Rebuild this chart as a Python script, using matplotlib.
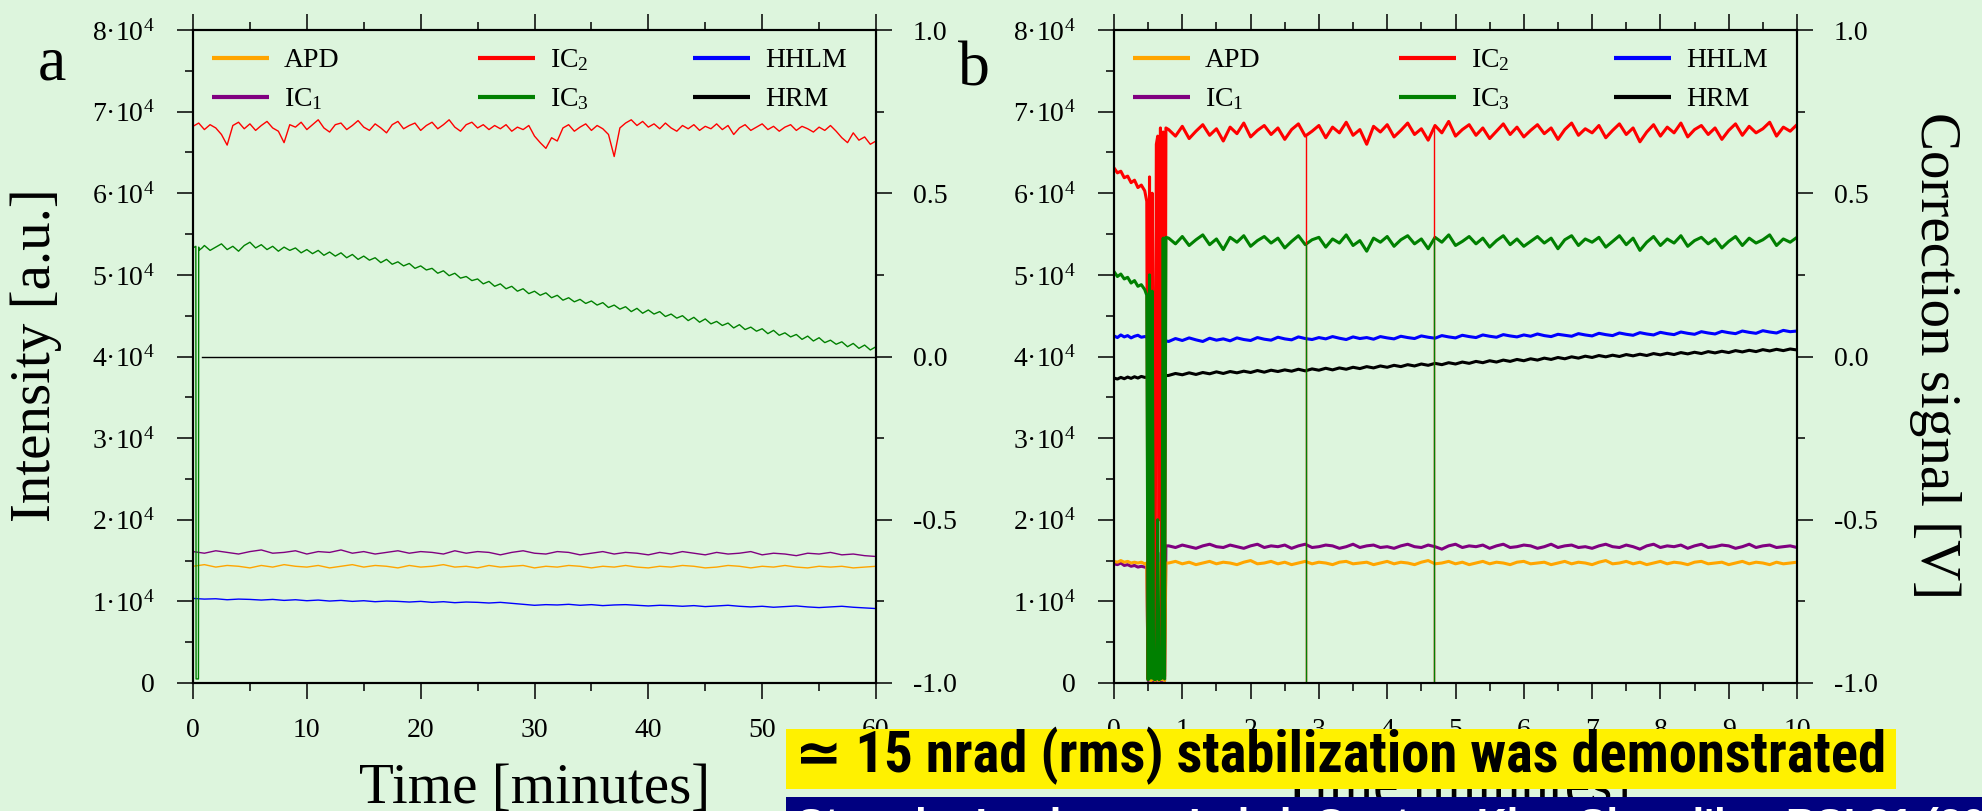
import numpy as np
import matplotlib
matplotlib.use("Agg")
import matplotlib.pyplot as plt
from matplotlib.lines import Line2D
from matplotlib.patches import Rectangle
from matplotlib.ticker import FixedLocator, MultipleLocator
from matplotlib import font_manager

# ---------------- data ----------------
# tick labels
ylabels_left = ['0', '1·10$^{4}$', '2·10$^{4}$', '3·10$^{4}$', '4·10$^{4}$',
                '5·10$^{4}$', '6·10$^{4}$', '7·10$^{4}$', '8·10$^{4}$']
ylabels_right = ['-1.0', '-0.5', '0.0', '0.5', '1.0']
series_names = ['APD', 'IC$_{\\mathrm{1}}$', 'IC$_{\\mathrm{2}}$', 'IC$_{\\mathrm{3}}$', 'HHLM', 'HRM']
series_colors = ['#ffa500', '#800080', '#ff0000', '#008000', '#0000ff', '#000000']

# ----- panel a (time in minutes, intensities in units of 100 counts, signals in V)
ic2_a = [682, 686, 678, 684, 680, 672, 659, 683, 687, 679, 685, 677, 683, 688, 680, 676, 662, 684,
         681, 687, 678, 684, 690, 680, 675, 684, 686, 678, 683, 689, 681, 677, 685, 680, 674, 684,
         688, 679, 683, 686, 677, 683, 687, 679, 684, 690, 681, 676, 684, 687, 680, 684, 678, 683,
         679, 684, 676, 681, 678, 683, 670, 662, 655, 668, 664, 680, 684, 676, 681, 685, 677, 683,
         679, 672, 645, 680, 686, 690, 683, 688, 681, 685, 679, 686, 680, 676, 683, 679, 684, 677,
         682, 679, 685, 678, 683, 672, 680, 684, 677, 681, 685, 678, 682, 676, 681, 684, 677, 682,
         679, 675, 681, 677, 683, 676, 668, 662, 674, 665, 669, 660, 664]
ic3_a_start_t = [0.0, 0.25, 0.27, 0.48, 0.50, 0.52, 0.8]
ic3_a_start = [533, 535, 5, 5, 534, 530, 533]
ic3_a = [536, 530, 534, 538, 531, 535, 529, 536, 540, 533, 537, 531, 535, 529, 534, 530, 533, 527,
         531, 526, 530, 524, 528, 523, 527, 521, 525, 519, 523, 518, 521, 515, 519, 513, 516, 511,
         514, 508, 511, 506, 508, 502, 505, 499, 502, 496, 498, 493, 495, 489, 492, 486, 489, 483,
         486, 480, 483, 477, 480, 475, 478, 472, 475, 469, 472, 467, 470, 465, 468, 463, 466, 460,
         463, 458, 461, 455, 459, 453, 457, 452, 455, 449, 452, 447, 450, 444, 448, 442, 446, 440,
         443, 438, 441, 435, 439, 433, 436, 431, 434, 428, 432, 426, 429, 424, 427, 421, 425, 419,
         423, 417, 420, 415, 418, 412, 416, 410, 414, 408, 412]
ic1_a = [161, 159, 162, 160, 158, 161, 163, 159, 160, 162, 158, 161, 160, 163, 159, 161, 158, 160,
         162, 159, 161, 160, 158, 162, 159, 161, 160, 157, 160, 162, 159, 158, 161, 160, 157, 159,
         161, 158, 160, 159, 157, 160, 158, 161, 159, 157, 160, 158, 159, 161, 157, 159, 158, 156,
         159, 158, 160, 157, 158, 156, 155]
apd_a = [143, 145, 142, 144, 143, 141, 144, 142, 145, 143, 142, 144, 141, 143, 145, 142, 144, 143,
         141, 144, 142, 143, 145, 142, 143, 141, 144, 142, 143, 144, 141, 143, 142, 144, 143, 141,
         143, 142, 144, 142, 141, 143, 142, 144, 143, 141, 142, 144, 143, 141, 143, 142, 144, 142,
         141, 143, 142, 143, 141, 142, 143]
hhlm_a = [-0.741, -0.743, -0.742, -0.745, -0.743, -0.744, -0.746, -0.744, -0.747, -0.745, -0.748,
          -0.746, -0.749, -0.747, -0.750, -0.748, -0.751, -0.749, -0.750, -0.752, -0.750, -0.753,
          -0.751, -0.754, -0.752, -0.753, -0.755, -0.753, -0.756, -0.759, -0.762, -0.760, -0.761,
          -0.759, -0.762, -0.760, -0.763, -0.761, -0.760, -0.762, -0.764, -0.762, -0.763, -0.765,
          -0.763, -0.766, -0.764, -0.762, -0.765, -0.767, -0.765, -0.768, -0.766, -0.764, -0.767,
          -0.769, -0.767, -0.765, -0.768, -0.770, -0.772]
hrm_a_t = [0.8, 60.0]
hrm_a = [0.0, 0.0]

# ----- panel b
tb_glitch = [0.48, 0.50, 0.52, 0.54, 0.56, 0.58, 0.60, 0.62, 0.64, 0.66, 0.68, 0.70, 0.72, 0.74, 0.76]
ic2_b_pre = [631, 625, 627, 619, 621, 613, 616, 607, 610, 603]
ic2_b_gl = [590, 5, 620, 8, 600, 350, 10, 660, 670, 200, 680, 10, 675, 8, 680]
ic2_b = [678, 670, 682, 667, 676, 684, 671, 679, 664, 681, 673, 686, 669, 677, 683, 672, 680, 666,
         678, 685, 670, 676, 683, 668, 681, 674, 687, 671, 678, 660, 682, 675, 684, 669, 677, 686,
         672, 679, 665, 683, 674, 688, 670, 678, 684, 671, 680, 667, 676, 685, 672, 681, 669, 677,
         684, 673, 680, 666, 678, 686, 671, 679, 674, 683, 668, 677, 685, 672, 680, 663, 675, 684,
         670, 681, 674, 686, 669, 678, 683, 672, 680, 666, 677, 685, 671, 682, 674, 679, 687, 670,
         681, 676, 684]
ic3_b_pre = [504, 498, 501, 495, 497, 490, 493, 486, 488, 482]
ic3_b_gl = [475, 4, 500, 6, 480, 5, 4, 5, 200, 4, 5, 6, 545, 5, 546]
ic3_b = [545, 538, 547, 536, 543, 549, 537, 544, 531, 546, 540, 548, 535, 542, 547, 539, 545, 533,
         541, 548, 537, 543, 546, 534, 544, 539, 549, 536, 542, 529, 545, 540, 547, 535, 543, 548,
         538, 544, 532, 546, 540, 549, 536, 541, 547, 538, 545, 534, 542, 548, 537, 544, 535, 541,
         547, 539, 545, 532, 543, 548, 536, 544, 540, 546, 534, 541, 548, 537, 545, 530, 540, 547,
         536, 544, 539, 548, 535, 542, 546, 538, 544, 533, 541, 547, 536, 545, 539, 543, 549, 536,
         544, 540, 546]
ic1_b_pre = [146, 145, 147, 144, 145, 143, 144, 142, 143, 142]
ic1_b_gl = [141, 3, 4, 140, 3, 3, 4, 3, 160, 3, 4, 3, 167, 3, 168]
ic1_b = [168, 166, 169, 167, 165, 168, 170, 167, 166, 169, 167, 165, 168, 170, 166, 168, 167, 169,
         165, 168, 170, 166, 167, 169, 168, 165, 167, 170, 166, 168, 169, 166, 167, 165, 168, 170,
         167, 166, 169, 167, 164, 168, 170, 166, 168, 167, 169, 165, 168, 170, 166, 167, 169, 168,
         165, 167, 170, 166, 168, 169, 166, 167, 165, 168, 170, 167, 166, 169, 167, 164, 168, 170,
         166, 168, 167, 169, 165, 168, 170, 166, 167, 169, 168, 165, 167, 170, 166, 168, 169, 166,
         167, 168, 166]
apd_b_pre = [149, 148, 150, 148, 149, 147, 148, 147, 148, 146]
apd_b_gl = [147, 4, 146, 3, 4, 147, 3, 4, 146, 3, 147, 4, 147, 3, 147]
apd_b = [147, 149, 146, 148, 145, 147, 149, 146, 148, 147, 145, 148, 150, 146, 147, 149, 146, 148,
         145, 147, 149, 146, 148, 147, 145, 148, 149, 146, 147, 148, 145, 147, 149, 146, 148, 147,
         145, 148, 150, 146, 147, 149, 146, 148, 145, 147, 149, 146, 148, 147, 145, 148, 149, 146,
         147, 148, 145, 147, 149, 146, 148, 147, 145, 148, 150, 146, 147, 149, 146, 148, 145, 147,
         149, 146, 148, 147, 145, 148, 149, 146, 147, 148, 145, 147, 149, 146, 148, 147, 145, 148,
         146, 147, 148]
hhlm_b_pre = [0.063, 0.058, 0.066, 0.060, 0.064, 0.057, 0.062, 0.065, 0.059, 0.061]
hhlm_b = [0.046, 0.055, 0.049, 0.057, 0.051, 0.046, 0.056, 0.050, 0.054, 0.048, 0.057, 0.052, 0.049,
          0.058, 0.053, 0.050, 0.059, 0.054, 0.051, 0.060, 0.055, 0.052, 0.058, 0.054, 0.061, 0.056,
          0.052, 0.060, 0.055, 0.058, 0.053, 0.061, 0.057, 0.054, 0.062, 0.058, 0.055, 0.063, 0.059,
          0.056, 0.064, 0.060, 0.057, 0.065, 0.061, 0.058, 0.066, 0.062, 0.059, 0.067, 0.063, 0.060,
          0.066, 0.062, 0.069, 0.064, 0.061, 0.068, 0.065, 0.062, 0.070, 0.066, 0.063, 0.071, 0.067,
          0.064, 0.072, 0.068, 0.065, 0.073, 0.069, 0.066, 0.074, 0.070, 0.067, 0.075, 0.071, 0.068,
          0.076, 0.072, 0.069, 0.077, 0.073, 0.070, 0.078, 0.074, 0.071, 0.079, 0.075, 0.072, 0.080,
          0.076, 0.078]
hrm_b_pre = [-0.066, -0.069, -0.064, -0.068, -0.063, -0.067, -0.062, -0.066, -0.061, -0.064]
hrm_b = [-0.058, -0.052, -0.056, -0.050, -0.055, -0.049, -0.053, -0.047, -0.052, -0.046, -0.050,
         -0.045, -0.049, -0.043, -0.048, -0.042, -0.046, -0.041, -0.045, -0.039, -0.044, -0.038,
         -0.042, -0.036, -0.041, -0.035, -0.039, -0.033, -0.037, -0.031, -0.035, -0.029, -0.033,
         -0.027, -0.031, -0.025, -0.029, -0.023, -0.027, -0.021, -0.025, -0.019, -0.023, -0.017,
         -0.021, -0.015, -0.019, -0.013, -0.017, -0.011, -0.015, -0.009, -0.013, -0.007, -0.011,
         -0.005, -0.009, -0.003, -0.007, -0.001, -0.005, 0.001, -0.003, 0.003, -0.001, 0.004, 0.000,
         0.006, 0.002, 0.007, 0.003, 0.009, 0.005, 0.010, 0.006, 0.012, 0.008, 0.013, 0.009, 0.015,
         0.011, 0.016, 0.012, 0.018, 0.014, 0.019, 0.015, 0.021, 0.017, 0.022, 0.018, 0.023, 0.020]
dropout_b_t = [2.81, 4.69]

headline = "\u2243 15 nrad (rms) stabilization was demonstrated"
citation = "Stoupin, Lenkszus, Laird, Goetze, Kim, Shvyd'ko, RSI 81 (2010)"

# ---------------- style ----------------
W, H = 1982, 811
BG = '#ddf5dd'
plt.rcParams['font.family'] = ['Liberation Serif', 'DejaVu Serif']
plt.rcParams['mathtext.fontset'] = 'custom'
plt.rcParams['mathtext.rm'] = 'Liberation Serif'
plt.rcParams['mathtext.it'] = 'Liberation Serif:italic'
plt.rcParams['mathtext.bf'] = 'Liberation Serif:bold'

# pick a narrow sans for the banner if one is installed
_installed = {f.name for f in font_manager.fontManager.ttflist}
sans_b = [f for f in ['Liberation Sans Narrow', 'Roboto Condensed', 'Open Sans Condensed']
          if f in _installed] + ['Liberation Sans', 'DejaVu Sans']

fig = plt.figure(figsize=(W / 100, H / 100), dpi=100, facecolor=BG)


def px_axes(x0, y0, x1, y1):
    return fig.add_axes([x0 / W, 1 - y1 / H, (x1 - x0) / W, (y1 - y0) / H])


def style_axes(ax, tw, xmax, xmaj, xmin, xticklabels):
    ax.set_xlim(0, xmax)
    ax.set_ylim(0, 8e4)
    tw.set_ylim(-1, 1)
    ax.set_zorder(2)
    tw.set_zorder(1)
    ax.patch.set_visible(False)
    tw.patch.set_visible(False)
    ax.xaxis.set_major_locator(FixedLocator(np.arange(0, xmax + 1e-9, xmaj)))
    ax.xaxis.set_minor_locator(MultipleLocator(xmin))
    ax.set_xticklabels(xticklabels)
    ax.yaxis.set_major_locator(FixedLocator(np.arange(0, 8e4 + 1, 1e4)))
    ax.yaxis.set_minor_locator(MultipleLocator(5e3))
    ax.set_yticklabels(ylabels_left)
    tw.yaxis.set_major_locator(FixedLocator([-1, -0.5, 0, 0.5, 1]))
    tw.yaxis.set_minor_locator(MultipleLocator(0.25))
    tw.set_yticklabels(ylabels_right)
    for a in (ax, tw):
        for s in a.spines.values():
            s.set_linewidth(1.5)
    ax.tick_params(which='both', direction='out', top=True, bottom=True, left=True, right=False,
                   labeltop=False, labelsize=20, width=1.1)
    ax.tick_params(which='major', length=11.5)
    ax.tick_params(which='minor', length=5.8)
    ax.tick_params(axis='x', which='major', pad=14)
    ax.tick_params(axis='y', which='major', pad=16)
    tw.tick_params(which='both', direction='out', right=True, labelsize=20, width=1.1)
    tw.tick_params(which='major', length=11.5, pad=15)
    tw.tick_params(which='minor', length=5.8)
    ax.set_xlabel('Time [minutes]', fontsize=41, labelpad=14)


def manual_legend(ax):
    wpx, hpx = 683.0, 653.0
    cols = [19, 285, 500]
    rows = [28, 67]
    for i, (name, col) in enumerate(zip(series_names, series_colors)):
        c, r = divmod(i, 2)
        x0 = cols[c] / wpx
        x1 = (cols[c] + 57) / wpx
        y = 1 - rows[r] / hpx
        ax.add_line(Line2D([x0, x1], [y, y], transform=ax.transAxes, color=col, lw=3.0,
                           solid_capstyle='butt', clip_on=False, zorder=5))
        ax.text((cols[c] + 72) / wpx, y - 9 / hpx, name, transform=ax.transAxes,
                fontsize=20, va='baseline', ha='left', zorder=5)


# ---------------- panel a ----------------
axa = px_axes(193, 30, 876, 683)
twa = axa.twinx()
style_axes(axa, twa, 60, 10, 5, ['0', '10', '20', '30', '40', '50', '60'])

t_a1 = np.arange(len(ic2_a)) * 0.5
t_a3 = 1.0 + np.arange(len(ic3_a)) * 0.5
t_a61 = np.arange(len(ic1_a)) * 1.0
lw_a = 1.0
twa.plot(t_a61[:len(hhlm_a)], hhlm_a, color=series_colors[4], lw=lw_a)
twa.plot(hrm_a_t, hrm_a, color=series_colors[5], lw=lw_a)
axa.plot(t_a61[:len(ic1_a)], np.array(ic1_a) * 100, color=series_colors[1], lw=lw_a)
axa.plot(t_a61[:len(apd_a)], np.array(apd_a) * 100, color=series_colors[0], lw=lw_a)
axa.plot(t_a1, np.array(ic2_a) * 100, color=series_colors[2], lw=lw_a)
t3 = np.concatenate([ic3_a_start_t, t_a3])
v3 = np.concatenate([ic3_a_start, ic3_a]) * 100
axa.plot(t3, v3, color=series_colors[3], lw=lw_a)
manual_legend(axa)

# ---------------- panel b ----------------
axb = px_axes(1114, 30, 1797, 683)
twb = axb.twinx()
style_axes(axb, twb, 10, 1, 0.5, [str(i) for i in range(11)])

t_pre = np.arange(10) * 0.05


def full_b(pre, gl, post):
    tp = 0.8 + 0.1 * np.arange(len(post))
    t = np.concatenate([t_pre, tb_glitch, tp])
    v = np.concatenate([pre, gl, post]) * 100.0
    return t, v


lw_b = 2.2
tp_h = 0.8 + 0.1 * np.arange(len(hhlm_b))
twb.plot(np.concatenate([t_pre, tp_h]), np.concatenate([hhlm_b_pre, hhlm_b]),
         color=series_colors[4], lw=lw_b)
tp_r = 0.8 + 0.1 * np.arange(len(hrm_b))
twb.plot(np.concatenate([t_pre, tp_r]), np.concatenate([hrm_b_pre, hrm_b]),
         color=series_colors[5], lw=lw_b)

t, v = full_b(ic1_b_pre, ic1_b_gl, ic1_b)
axb.plot(t, v, color=series_colors[1], lw=lw_b)
t, v = full_b(apd_b_pre, apd_b_gl, apd_b)
axb.plot(t, v, color=series_colors[0], lw=lw_b)
t2, v2 = full_b(ic2_b_pre, ic2_b_gl, ic2_b)
axb.plot(t2, v2, color=series_colors[2], lw=lw_b)
t3b, v3b = full_b(ic3_b_pre, ic3_b_gl, ic3_b)
axb.plot(t3b, v3b, color=series_colors[3], lw=lw_b)
axb.vlines(dropout_b_t, 0, np.interp(dropout_b_t, t2, v2), color=series_colors[2], lw=1.0)
axb.vlines(dropout_b_t, 0, np.interp(dropout_b_t, t3b, v3b), color=series_colors[3], lw=1.0)
manual_legend(axb)

# ---------------- labels ----------------
fig.text(36 / W, 1 - 355 / H, 'Intensity [a.u.]', rotation=90, fontsize=41,
         ha='center', va='center')
fig.text(1935 / W, 1 - 356 / H, 'Correction signal [V]', rotation=270, fontsize=41,
         ha='center', va='center')
fig.text(52 / W, 1 - 80 / H, 'a', fontsize=46, ha='center', va='baseline')
fig.text(974 / W, 1 - 86 / H, 'b', fontsize=46, ha='center', va='baseline')

# ---------------- banner overlays ----------------
fig.add_artist(Rectangle((786 / W, 1 - 789 / H), (1896 - 786) / W, 60 / H,
                         transform=fig.transFigure, facecolor='#fff100', edgecolor='none', zorder=20))
fig.add_artist(Rectangle((786 / W, 0), (W - 786) / W, 14 / H,
                         transform=fig.transFigure, facecolor='#000080', edgecolor='none', zorder=20))
t_head = fig.text(795 / W, 1 - 772 / H, headline, fontsize=34, fontweight='bold',
                  family=sans_b, ha='left', va='baseline', zorder=21, color='black')
t_cit = fig.text(797 / W, 1 - 807 / H, citation, fontsize=30, fontweight='bold',
                 family=['Liberation Sans', 'DejaVu Sans'], ha='left', va='top', zorder=21,
                 color='white')

r = fig.canvas.get_renderer()
bb = t_head.get_window_extent(r)
t_head.set_fontsize(t_head.get_fontsize() * 1090.0 / bb.width)
bb = t_cit.get_window_extent(r)
t_cit.set_fontsize(t_cit.get_fontsize() * 1250.0 / bb.width)

fig.savefig('out.png', dpi=100, facecolor=BG)
